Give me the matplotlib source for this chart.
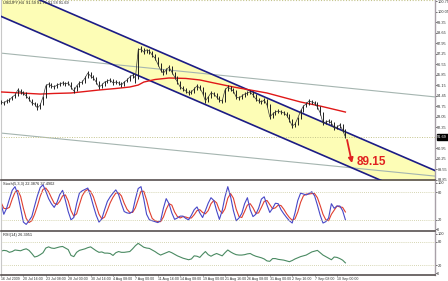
import numpy as np
import matplotlib
matplotlib.use("Agg")
import matplotlib.pyplot as plt

plt.rcParams['font.family'] = ['Liberation Sans Narrow', 'Liberation Sans', 'DejaVu Sans']

# ---- price bars (every 2nd H4 bar) ----
close = [94.02, 93.95, 94.09, 94.15, 94.35, 94.49, 94.82, 94.69, 94.62, 94.42,
         94.22, 93.95, 93.89, 93.62, 93.82, 94.35, 95.09, 95.22, 95.09, 95.02,
         95.15, 95.22, 95.29, 95.22, 95.29, 95.02, 94.75, 95.09, 95.29, 95.35,
         95.62, 95.95, 95.75, 95.62, 95.35, 95.02, 95.15, 95.35, 95.42, 95.49,
         95.29, 95.35, 95.29, 95.15, 95.35, 95.49, 95.69, 95.82, 95.62, 97.49,
         97.55, 97.35, 97.49, 97.42, 97.15, 96.95, 96.55, 96.15, 95.95, 96.15,
         96.35, 96.02, 95.69, 95.35, 95.02, 94.89, 94.75, 94.62, 94.69, 94.89,
         95.09, 94.95, 94.62, 94.09, 94.35, 94.62, 94.55, 94.35, 94.15, 94.09,
         94.82, 95.02, 94.89, 94.75, 94.35, 94.29, 94.42, 94.55, 94.62, 94.69,
         94.49, 94.22, 94.09, 94.02, 94.15, 93.82, 93.02, 93.22, 93.35, 93.42,
         93.35, 93.29, 93.15, 92.82, 92.42, 92.55, 92.95, 93.42, 93.75, 93.89,
         94.09, 94.02, 93.95, 93.69, 93.29, 92.62, 92.69, 92.75, 92.62, 92.29,
         92.35, 92.49, 92.15, 91.69]
high = [94.18, 94.10, 94.20, 94.28, 94.45, 94.62, 94.95, 94.90, 94.78, 94.66,
        94.45, 94.25, 94.02, 93.95, 93.98, 94.42, 95.20, 95.38, 95.30, 95.18,
        95.28, 95.36, 95.45, 95.38, 95.40, 95.32, 95.05, 95.18, 95.40, 95.48,
        95.72, 96.08, 96.00, 95.82, 95.66, 95.40, 95.28, 95.45, 95.55, 95.62,
        95.52, 95.46, 95.42, 95.32, 95.45, 95.60, 95.80, 95.95, 95.88, 97.62,
        97.78, 97.60, 97.58, 97.56, 97.45, 97.20, 97.00, 96.60, 96.20, 96.28,
        96.48, 96.40, 96.05, 95.72, 95.40, 95.08, 94.95, 94.80, 94.82, 95.00,
        95.20, 95.15, 95.00, 94.68, 94.45, 94.72, 94.70, 94.60, 94.40, 94.22,
        94.92, 95.15, 95.08, 94.95, 94.80, 94.42, 94.55, 94.66, 94.75, 94.80,
        94.72, 94.55, 94.28, 94.15, 94.26, 94.20, 93.88, 93.35, 93.48, 93.55,
        93.50, 93.42, 93.35, 93.20, 92.88, 92.68, 93.05, 93.52, 93.85, 94.00,
        94.20, 94.15, 94.10, 94.00, 93.75, 93.35, 92.82, 92.88, 92.80, 92.68,
        92.48, 92.60, 92.55, 92.20]
low = [93.90, 93.82, 93.92, 94.02, 94.12, 94.30, 94.45, 94.58, 94.50, 94.30,
       94.10, 93.85, 93.72, 93.50, 93.58, 93.80, 94.30, 95.02, 94.95, 94.88,
       94.98, 95.08, 95.12, 95.10, 95.15, 94.90, 94.60, 94.72, 95.05, 95.20,
       95.30, 95.60, 95.62, 95.50, 95.22, 94.90, 94.98, 95.10, 95.30, 95.36,
       95.18, 95.20, 95.16, 95.02, 95.10, 95.32, 95.45, 95.65, 95.30, 95.55,
       97.38, 97.22, 97.30, 97.25, 97.05, 96.82, 96.42, 96.05, 95.82, 95.90,
       96.10, 95.90, 95.55, 95.22, 94.90, 94.75, 94.62, 94.50, 94.52, 94.65,
       94.85, 94.82, 94.50, 93.98, 94.02, 94.30, 94.42, 94.22, 94.02, 93.95,
       94.05, 94.78, 94.75, 94.62, 94.22, 94.15, 94.25, 94.38, 94.50, 94.55,
       94.36, 94.10, 93.96, 93.88, 93.98, 93.70, 92.90, 92.98, 93.18, 93.30,
       93.22, 93.15, 93.02, 92.70, 92.30, 92.35, 92.50, 92.90, 93.38, 93.70,
       93.85, 93.90, 93.82, 93.58, 93.18, 92.50, 92.55, 92.60, 92.50, 92.18,
       92.20, 92.30, 92.05, 91.60]

# ---- moving average (bar index, value) ----
ma_bars = [0, 14, 28, 38, 50, 60, 70, 82, 92, 98, 102, 110, 120, 132, 142,
           152, 166, 178, 190, 202, 214, 228, 246]
ma_vals = [94.69, 94.62, 94.55, 94.59, 94.62, 94.72, 94.82, 94.92, 95.02,
           95.15, 95.35, 95.52, 95.62, 95.59, 95.49, 95.29, 95.02, 94.82,
           94.62, 94.32, 94.02, 93.75, 93.35]

# ---- channel / trend lines (bar index, price) ----
chan_upper_bars = [98, 240]
chan_upper_vals = [97.99, 92.27]
chan_lower_bars = [0, 240]
chan_lower_vals = [99.73, 90.06]
grey_upper_bars = [0, 310]
grey_upper_vals = [97.28, 94.36]
grey_lower_bars = [0, 310]
grey_lower_vals = [91.95, 89.08]
target_label = "89.15"

# ---- Stochastic ----
stoch_main = [55, 32, 45, 65, 84, 92, 75, 45, 15, 10, 18, 27, 50, 72, 90, 96, 82, 66,
              55, 47, 58, 75, 84, 62, 38, 20, 25, 55, 78, 83, 86, 89, 72, 50, 30, 15,
              22, 42, 60, 70, 78, 85, 75, 55, 38, 35, 34, 38, 65, 88, 92, 65, 32, 20,
              18, 16, 14, 18, 45, 66, 55, 35, 21, 24, 28, 28, 23, 20, 30, 42, 48, 35,
              25, 40, 56, 68, 62, 40, 21, 40, 70, 92, 70, 40, 18, 24, 34, 55, 68, 42,
              27, 32, 45, 65, 70, 52, 36, 45, 56, 55, 42, 33, 25, 18, 13, 35, 62, 78,
              76, 74, 77, 81, 72, 52, 30, 13, 16, 24, 55, 45, 50, 50, 40, 20]
stoch_signal = [58, 45, 44, 47, 65, 80, 84, 71, 45, 23, 14, 18, 32, 50, 71, 86, 89, 81,
                68, 56, 53, 60, 72, 74, 61, 40, 28, 33, 53, 72, 82, 86, 82, 70, 51, 32,
                22, 26, 41, 57, 69, 78, 79, 72, 56, 43, 36, 36, 46, 64, 82, 82, 63, 39,
                23, 18, 16, 16, 26, 43, 55, 52, 37, 27, 24, 27, 26, 24, 24, 31, 40, 42,
                36, 33, 40, 55, 62, 57, 41, 34, 44, 67, 77, 67, 43, 27, 25, 38, 52, 55,
                46, 34, 35, 47, 60, 62, 53, 44, 46, 52, 51, 43, 33, 25, 19, 22, 37, 58,
                72, 76, 76, 77, 77, 68, 51, 32, 20, 18, 32, 41, 50, 48, 47, 37]

# ---- RSI ----
rsi = [56, 58, 57, 53, 55, 59, 58, 57, 60, 62, 58, 50, 41, 43, 47, 52, 64, 67, 64, 63,
       65, 67, 68, 64, 60, 45, 42, 53, 58, 60, 62, 65, 67, 62, 57, 53, 54, 51, 51, 50,
       45, 52, 55, 53, 53, 54, 55, 62, 70, 76, 71, 66, 64, 63, 59, 55, 50, 46, 49, 52,
       55, 52, 48, 44, 41, 38, 36, 34, 36, 44, 43, 40, 48, 55, 47, 43, 47, 50, 47, 44,
       52, 59, 54, 50, 47, 46, 46, 47, 49, 50, 46, 43, 41, 39, 36, 31, 30, 37, 37, 35,
       34, 33, 31, 29, 32, 36, 39, 42, 44, 46, 50, 54, 56, 58, 52, 46, 42, 38, 34, 41,
       40, 37, 33, 26]

# ---- axis labels ----
price_ticks = [100.75, 100.05, 99.35, 98.65, 97.95, 97.25, 96.55, 95.85, 95.15,
               94.45, 93.75, 93.05, 92.35, 90.95, 90.25, 89.55, 88.85]
date_tick_bars = [0, 16, 32, 48, 64, 80, 96, 112, 128, 144, 160, 176, 192, 208, 224, 240]
date_labels = ["16 Jul 2009", "20 Jul 16:00", "23 Jul 08:00", "28 Jul 00:00",
               "30 Jul 16:00", "4 Aug 08:00", "7 Aug 00:00", "11 Aug 16:00",
               "14 Aug 08:00", "19 Aug 00:00", "21 Aug 16:00", "26 Aug 08:00",
               "31 Aug 00:00", "2 Sep 16:00", "7 Sep 08:00", "10 Sep 00:00"]

W, H = 448, 281
fig = plt.figure(figsize=(W / 100, H / 100), dpi=100)
fig.patch.set_facecolor("white")


def ax_px(x0, y0, x1, y1):
    return fig.add_axes([x0 / W, 1 - y1 / H, (x1 - x0) / W, (y1 - y0) / H])


ax = ax_px(1, 0, 435, 180)
ax_st = ax_px(1, 181, 435, 231)
ax_rsi = ax_px(1, 232, 435, 275)

XMAX = 310
bars = np.arange(len(close)) * 2
FS = 2.8


def line_vals(bx, by, xs):
    bx = np.asarray(bx, float)
    by = np.asarray(by, float)
    k = (by[1] - by[0]) / (bx[1] - bx[0])
    return by[0] + k * (np.asarray(xs) - bx[0])


xs = np.array([0, XMAX])
# channel fill
ax.fill_between(xs, line_vals(chan_lower_bars, chan_lower_vals, xs),
                line_vals(chan_upper_bars, chan_upper_vals, xs),
                color="#fdfdb6", lw=0, zorder=1)
# grey lines
ax.plot(xs, line_vals(grey_upper_bars, grey_upper_vals, xs), color="#a5b5b0", lw=0.8, zorder=2)
ax.plot(xs, line_vals(grey_lower_bars, grey_lower_vals, xs), color="#a5b5b0", lw=0.8, zorder=2)
# channel lines
ax.plot(xs, line_vals(chan_upper_bars, chan_upper_vals, xs), color="#1c1c85", lw=1.2, zorder=3)
ax.plot(xs, line_vals(chan_lower_bars, chan_lower_vals, xs), color="#1c1c85", lw=1.2, zorder=3)
# current price line
ax.axhline(close[-1], color="#c4c48c", ls=(0, (1, 1.5)), lw=0.7, zorder=2)
# MA
ax.plot(ma_bars, ma_vals, color="#e01818", lw=1.0, zorder=4)
# price bars
ax.vlines(bars, low, high, color="#1e1e1e", lw=0.7, zorder=5)
ax.plot(bars, close, color="#3a3a3a", lw=0.5, zorder=5)

# target arrow + label
ax.annotate("", xy=(250.7, 89.95), xytext=(247.2, 91.49),
            arrowprops=dict(arrowstyle="-|>", color="#e02020", lw=1.3,
                            mutation_scale=7, shrinkA=0, shrinkB=0), zorder=6)
ax.text(254.3, 90.05, target_label, color="#e02020", fontsize=8.5,
        fontweight="bold", va="center", ha="left", zorder=6,
        family=["Liberation Sans", "DejaVu Sans"])

ax.set_xlim(0, XMAX)
ax.set_ylim(88.82, 100.82)
ax.text(0.004, 0.997, "USDJPY,H4  91.59 91.75 91.58 91.69", transform=ax.transAxes,
        fontsize=FS, va="top", ha="left", color="#202020")

# Stochastic
ax_st.plot(bars, stoch_signal, color="#e04030", lw=0.8)
ax_st.plot(bars, stoch_main, color="#4848c8", lw=0.8)
for lv in (20, 80):
    ax_st.axhline(lv, color="#c8c89a", ls=(0, (1, 1.5)), lw=0.6)
ax_st.set_xlim(0, XMAX)
ax_st.set_ylim(-4.3, 104.3)
ax_st.set_yticks([0, 20, 80, 100])
ax_st.set_yticklabels(["0", "20", "80", "100"])
ax_st.text(0.004, 0.985, "Stoch(5,3,3) 22.3876 37.4902", transform=ax_st.transAxes,
           fontsize=FS, va="top", ha="left", color="#202020")

# RSI
ax_rsi.plot(bars, rsi, color="#4a8a62", lw=0.8)
for lv in (20, 80):
    ax_rsi.axhline(lv, color="#c8c89a", ls=(0, (1, 1.5)), lw=0.6)
ax_rsi.set_xlim(0, XMAX)
ax_rsi.set_ylim(-5.1, 105.1)
ax_rsi.set_yticks([0, 20, 80, 100])
ax_rsi.set_yticklabels(["0", "20", "80", "100"])
ax_rsi.text(0.004, 0.985, "RSI(14) 26.3951", transform=ax_rsi.transAxes,
            fontsize=FS, va="top", ha="left", color="#202020")

ax.set_yticks(price_ticks)
ax.set_yticklabels([f"{v:.2f}" for v in price_ticks])

for a in (ax, ax_st, ax_rsi):
    a.set_facecolor("white")
    a.yaxis.tick_right()
    a.tick_params(axis="y", labelsize=FS, length=1.2, width=0.5, pad=0.5,
                  colors="#303030")
    a.spines["right"].set_color("#a8a0a8")
    a.spines["right"].set_linewidth(1.0)
    a.spines["left"].set_color("#c8c8c8")
    a.spines["left"].set_linewidth(0.8)
    a.spines["top"].set_visible(False)
    a.spines["bottom"].set_color("#585050")
    a.spines["bottom"].set_linewidth(1.2)
    a.set_xticks([])

ax.axhline(100.82, color="#c4c48c", ls=(0, (1, 1.5)), lw=0.8, clip_on=False)

# current price box
ax.text(XMAX + 1.5, close[-1], f"{close[-1]:.2f}", fontsize=FS, color="white",
        va="center", ha="left",
        bbox=dict(boxstyle="square,pad=0.15", fc="black", ec="black"), clip_on=False)

ax_rsi.set_xticks(date_tick_bars)
ax_rsi.set_xticklabels(date_labels, ha="left")
ax_rsi.tick_params(axis="x", labelsize=2.6, length=1.0, width=0.5, pad=0.3,
                   colors="#303030")

fig.savefig("out.png", dpi=100, facecolor="white")
